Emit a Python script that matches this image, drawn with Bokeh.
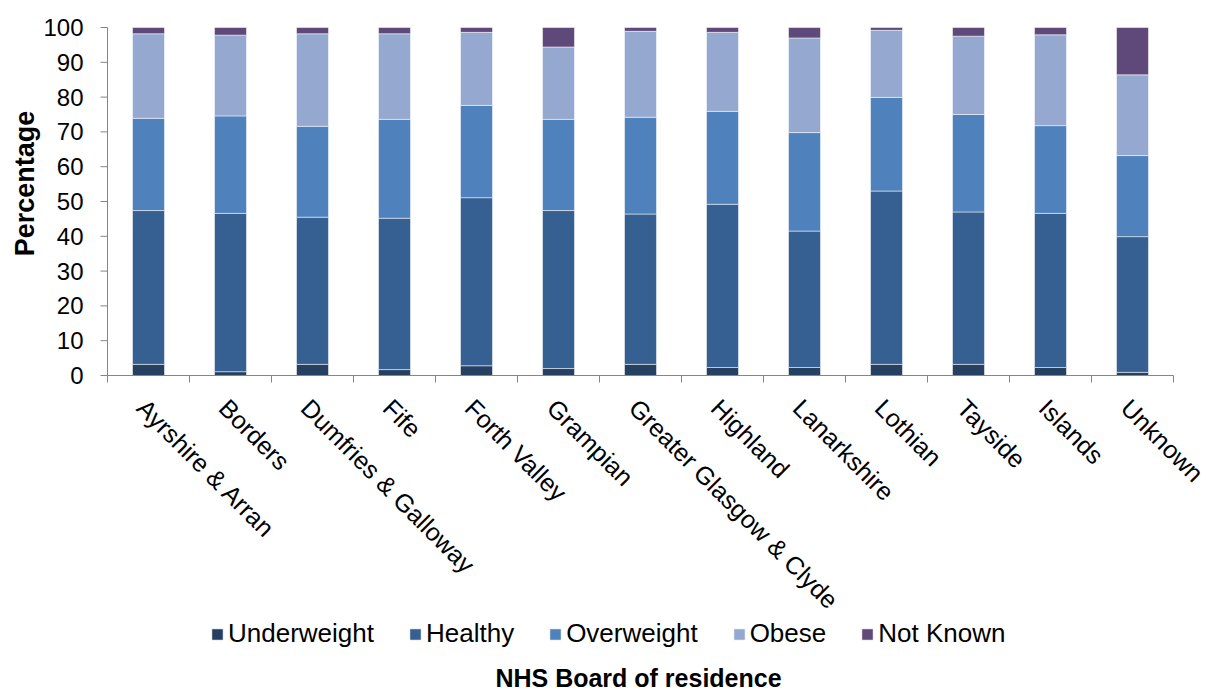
import math
from bokeh.plotting import figure
from bokeh.models import (ColumnDataSource, Range1d, Legend, LegendItem, Label)
from bokeh.core.properties import value
from bokeh.embed import file_html
from bokeh.resources import INLINE

categories = ["Ayrshire & Arran", "Borders", "Dumfries & Galloway", "Fife", "Forth Valley",
              "Grampian", "Greater Glasgow & Clyde", "Highland", "Lanarkshire", "Lothian",
              "Tayside", "Islands", "Unknown"]
underweight = [3.2, 1.1, 3.2, 1.7, 2.8, 2.0, 3.2, 2.3, 2.3, 3.2, 3.2, 2.3, 0.9]
healthy     = [44.2, 45.5, 42.3, 43.5, 48.3, 45.4, 43.2, 46.9, 39.2, 49.8, 43.8, 44.3, 39.0]
overweight  = [26.5, 28.0, 26.1, 28.4, 26.5, 26.2, 27.8, 26.7, 28.3, 26.9, 28.0, 25.2, 23.3]
obese       = [24.3, 23.2, 26.6, 24.6, 21.0, 20.8, 24.7, 22.7, 27.2, 19.3, 22.5, 26.1, 23.2]
not_known   = [1.8, 2.2, 1.8, 1.8, 1.4, 5.6, 1.1, 1.4, 3.0, 0.8, 2.5, 2.1, 13.6]

series_names = ["Underweight", "Healthy", "Overweight", "Obese", "Not Known"]
series_keys = ["uw", "hw", "ow", "ob", "nk"]
colors = ["#254061", "#366092", "#4F81BD", "#95A9D0", "#5F497A"]
y_ticks = [0, 10, 20, 30, 40, 50, 60, 70, 80, 90, 100]
x_title = "NHS Board of residence"
y_title = "Percentage"

# ---- layout (pixels) ----
W, H = 1210, 694
PX_LEFT, PX_RIGHT = 107, 1173      # plot area left/right
PX_TOP, PX_ZERO = 27, 375          # y=100 and y=0 pixel rows
Y_MAX = 100

n = len(categories)
centers = [i + 0.5 for i in range(n)]
bounds = list(range(n + 1))

xs = (PX_RIGHT - PX_LEFT) / n          # px per category
ys = (PX_ZERO - PX_TOP) / Y_MAX        # px per percent
x_start = -PX_LEFT / xs
x_end = n + (W - PX_RIGHT) / xs
y_start = -(H - PX_ZERO) / ys
y_end = Y_MAX + PX_TOP / ys

FONT = "Liberation Sans"
AXIS_GREY = "#868686"

source = ColumnDataSource(dict(x=centers, uw=underweight, hw=healthy, ow=overweight,
                               ob=obese, nk=not_known))

p = figure(width=W, height=H, output_backend="svg", toolbar_location=None,
           x_axis_type=None, y_axis_type=None, min_border=0,
           x_range=Range1d(x_start, x_end), y_range=Range1d(y_start, y_end))
p.outline_line_color = None
p.grid.visible = False
p.background_fill_color = "white"

renderers = p.vbar_stack(series_keys, x="x", width=0.39, source=source, color=colors,
                         line_color="white", line_alpha=0.5, line_width=1)

# ---- axes drawn by hand ----
tick_len_x = 7 / xs
tick_len_y = 7 / ys
p.segment(x0=[bounds[0]], y0=[0], x1=[bounds[-1]], y1=[0], line_color=AXIS_GREY, line_width=1)
p.segment(x0=[bounds[0]], y0=[y_ticks[0]], x1=[bounds[0]], y1=[y_ticks[-1]],
          line_color=AXIS_GREY, line_width=1)
p.segment(x0=bounds, y0=[0] * len(bounds), x1=bounds, y1=[-tick_len_y] * len(bounds),
          line_color=AXIS_GREY, line_width=1)
p.segment(x0=[0] * len(y_ticks), y0=y_ticks, x1=[-tick_len_x] * len(y_ticks), y1=y_ticks,
          line_color=AXIS_GREY, line_width=1)

# y tick labels
p.text(x=[0] * len(y_ticks), y=y_ticks, text=[str(t) for t in y_ticks],
       x_offset=-24, text_align="right", text_baseline="middle",
       text_font=value(FONT), text_font_size=value("24px"), text_color="black")

# category labels, rotated
p.text(x=centers, y=[0] * n, text=categories, angle=-math.pi / 4,
       x_offset=-7, y_offset=28, text_align="left", text_baseline="middle",
       text_font=value(FONT), text_font_size=value("25px"), text_color="black")

# axis titles
p.add_layout(Label(x=24, y=H - 183, x_units="screen", y_units="screen", text=y_title,
                   angle=math.pi / 2, text_align="center", text_baseline="middle",
                   text_font=FONT, text_font_size="27px", text_font_style="bold",
                   text_color="black"))
p.add_layout(Label(x=(PX_LEFT + PX_RIGHT) / 2 - 2, y=3, x_units="screen", y_units="screen",
                   text=x_title, text_align="center", text_baseline="bottom",
                   text_font=FONT, text_font_size="25px", text_font_style="bold",
                   text_color="black"))

# legend
legend = Legend(items=[LegendItem(label=nm, renderers=[r]) for nm, r in zip(series_names, renderers)],
                orientation="horizontal", location=(210, 45),
                label_text_font=FONT, label_text_font_size="26px", label_text_color="black",
                glyph_width=14, glyph_height=14, label_standoff=4, spacing=34,
                padding=0, margin=0, border_line_color=None, background_fill_alpha=0)
p.add_layout(legend, "center")

open("out.html", "w").write(file_html(p, INLINE))
